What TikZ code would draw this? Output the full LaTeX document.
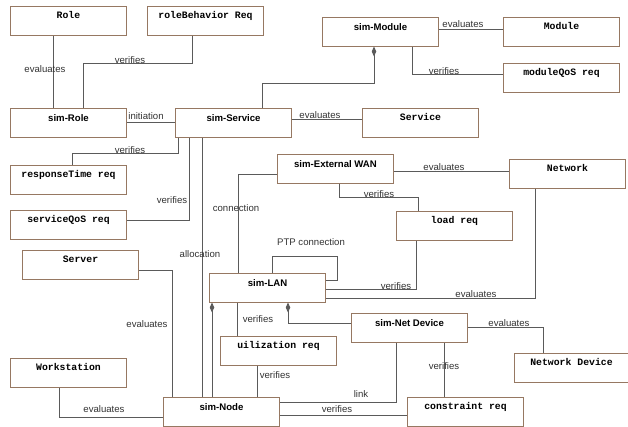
\documentclass[tikz,border=0pt]{standalone}
\usepackage{fontspec}
\setmainfont{Liberation Sans}
\newfontfamily\boxmono{Liberation Mono}
\usetikzlibrary{arrows.meta}
\definecolor{boxline}{RGB}{150,120,98}
\definecolor{wirec}{RGB}{90,90,90}
\definecolor{labeltext}{RGB}{50,50,50}
\begin{document}
\begin{tikzpicture}[x=1pt,y=-1pt,
  every node/.style={inner sep=0pt},
  cls/.style={draw=boxline, fill=white, line width=1pt, anchor=north west,
    minimum width=116pt, text height=13pt, text depth=15.5pt,
    font=\fontsize{9.6}{11}\selectfont\bfseries},
  req/.style={cls, text height=12pt, text depth=16.5pt,
    font=\fontsize{9.8}{11}\boxmono\bfseries},
  wire/.style={draw=wirec, line width=1pt},
  comp/.style={wire, -{Diamond[length=10pt,width=4.5pt]}},
  tag/.style={text=labeltext, anchor=base, font=\fontsize{9.6}{11}\selectfont},
]
\useasboundingbox (0,0) rectangle (628,426);

% classes and requirements
\node[req] (role)       at (10,6)    {Role};
\node[req] (rb)         at (147,6)   {roleBehavior Req};
\node[cls] (simmod)     at (322,17)  {sim-Module};
\node[req] (module)     at (503,17)  {Module};
\node[req] (modqos)     at (503,63)  {moduleQoS req};
\node[cls] (simrole)    at (10,108)  {sim-Role};
\node[cls] (simsvc)     at (175,108) {sim-Service};
\node[req] (service)    at (362,108) {Service};
\node[req] (resp)       at (10,165)  {responseTime req};
\node[req] (svcqos)     at (10,210)  {serviceQoS req};
\node[cls] (wan)        at (277,154) {sim-External WAN};
\node[req] (network)    at (509,159) {Network};
\node[req] (loadreq)    at (396,211) {load req};
\node[req] (server)     at (22,250)  {Server};
\node[cls] (simlan)     at (209,273) {sim-LAN};
\node[cls] (netdev)     at (351,313) {sim-Net Device};
\node[req] (util)       at (220,336) {uilization req};
\node[req, minimum width=114pt] (netdevice) at (514,353) {Network Device};
\node[req] (work)       at (10,358)  {Workstation};
\node[cls] (simnode)    at (163,397) {sim-Node};
\node[req] (constraint) at (407,397) {constraint req};

% associations
\draw[wire] (role.south -| 53,0) -- (simrole.north -| 53,0);
\draw[wire] (rb.south -| 192,0) |- (83,63) -- (simrole.north -| 83,0);
\draw[wire] (simrole.east) -- (simsvc.west);
\draw[comp] (simsvc.north -| 262,0) |- (374,83) -- (simmod.south -| 374,0);
\draw[wire] (simmod.east |- 0,29) -- (module.west |- 0,29);
\draw[wire] (simmod.south -| 412,0) |- (modqos.west |- 0,74);
\draw[wire] (simsvc.east |- 0,119) -- (service.west |- 0,119);
\draw[wire] (simsvc.south -| 178,0) |- (72,153) -- (resp.north -| 72,0);
\draw[wire] (simsvc.south -| 189,0) |- (svcqos.east |- 0,220);
\draw[wire] (simsvc.south -| 202,0) -- (simnode.north -| 202,0);
\draw[wire] (wan.west |- 0,174) -| (simlan.north -| 238,0);
\draw[wire] (wan.east |- 0,171) -- (network.west |- 0,171);
\draw[wire] (wan.south -| 339,0) |- (418,197) -- (loadreq.north -| 418,0);
\draw[wire] (loadreq.south -| 416,0) |- (simlan.east |- 0,289);
\draw[wire] (network.south -| 535,0) |- (simlan.east |- 0,298);
\draw[wire] (simlan.north -| 272,0) |- (337,256) |- (simlan.east |- 0,280);
\draw[wire] (simlan.south -| 237,0) -- (util.north -| 237,0);
\draw[comp] (simnode.north -| 212,0) -- (simlan.south -| 212,0);
\draw[comp] (netdev.west |- 0,323) -| (simlan.south -| 288,0);
\draw[wire] (netdev.east |- 0,327) -| (netdevice.north -| 543,0);
\draw[wire] (netdev.south -| 444,0) -- (constraint.north -| 444,0);
\draw[wire] (netdev.south -| 396,0) |- (simnode.east |- 0,402);
\draw[wire] (simnode.east |- 0,415) -- (constraint.west |- 0,415);
\draw[wire] (util.south -| 257,0) -- (simnode.north -| 257,0);
\draw[wire] (server.east |- 0,270) -| (simnode.north -| 172,0);
\draw[wire] (work.south -| 59,0) |- (simnode.west |- 0,417);

% association labels
\node[tag] (t1)  at (45,72.5) {evaluates};
\node[tag] (t2)  at (130,63)  {verifies};
\node[tag] (t3)  at (146,119) {initiation};
\node[tag] (t4)  at (463,27)  {evaluates};
\node[tag] (t5)  at (444,74)  {verifies};
\node[tag] (t6)  at (320,118) {evaluates};
\node[tag] (t7)  at (130,153) {verifies};
\node[tag] (t8)  at (172,203) {verifies};
\node[tag] (t9)  at (236,211) {connection};
\node[tag] (t10) at (200,257) {allocation};
\node[tag] (t11) at (311,245) {PTP connection};
\node[tag] (t12) at (444,170) {evaluates};
\node[tag] (t13) at (379,197) {verifies};
\node[tag] (t14) at (396,289) {verifies};
\node[tag] (t15) at (476,297) {evaluates};
\node[tag] (t16) at (509,326) {evaluates};
\node[tag] (t17) at (444,369) {verifies};
\node[tag] (t18) at (361,397) {link};
\node[tag] (t19) at (337,412) {verifies};
\node[tag] (t20) at (258,322) {verifies};
\node[tag] (t21) at (275,378) {verifies};
\node[tag] (t22) at (147,327) {evaluates};
\node[tag] (t23) at (104,412) {evaluates};
\end{tikzpicture}
\end{document}
